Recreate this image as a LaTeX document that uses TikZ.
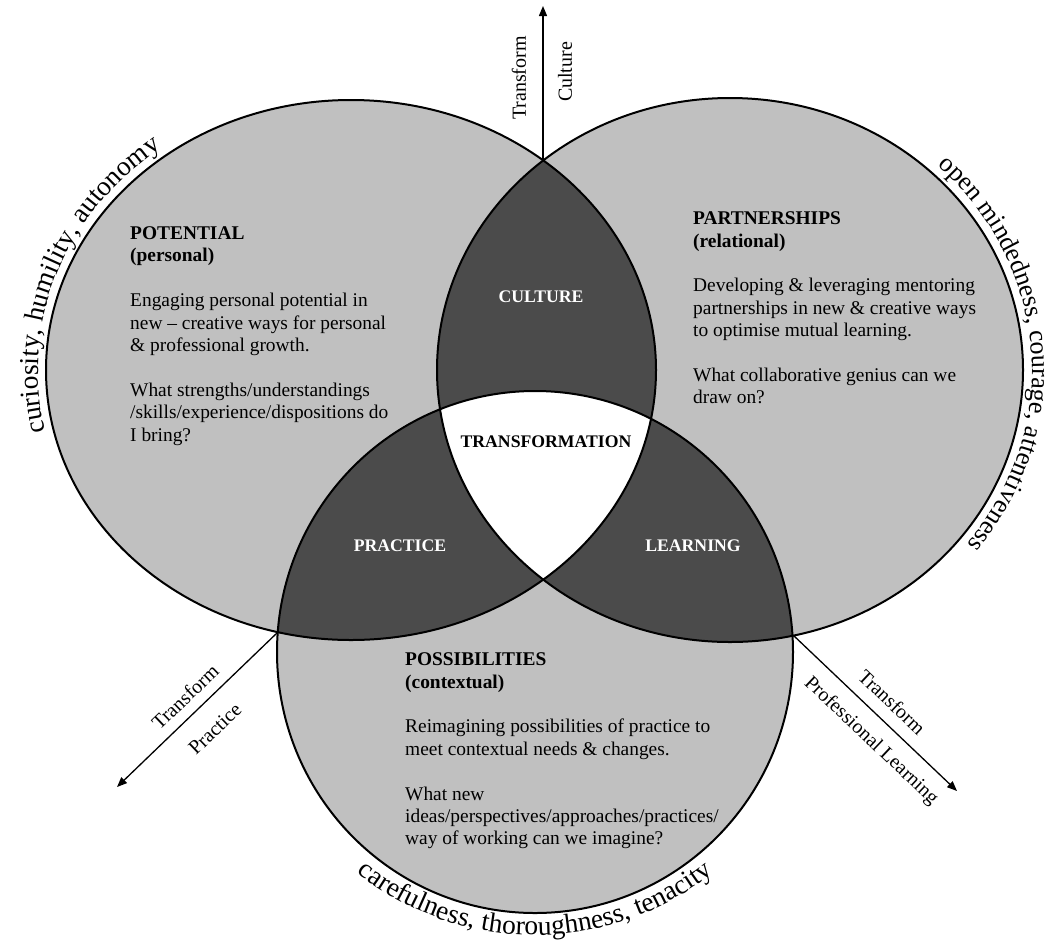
\documentclass[tikz,border=0pt]{standalone}
\usepackage{fontspec}
\setmainfont{Liberation Serif}
\usetikzlibrary{arrows.meta,decorations.text}

\definecolor{ringfill}{RGB}{192,192,192}
\definecolor{overlapfill}{RGB}{75,75,75}

\newcommand{\vennBody}{\fontsize{19.4pt}{22.4pt}\selectfont}
\newcommand{\vennLabel}{\fontsize{17.7pt}{20pt}\selectfont\bfseries}
\newcommand{\vennArc}{\fontsize{27.5pt}{32pt}\selectfont}
\newcommand{\vennArcR}{\fontsize{26pt}{30pt}\selectfont}
\newcommand{\vennTag}{\fontsize{20pt}{23pt}\selectfont}

\begin{document}
\begin{tikzpicture}[x=1pt,y=-1pt,
  shapeL/.style={insert path={(351,370) ellipse [x radius=305pt, y radius=270pt]}},
  shapeR/.style={insert path={(730,370) ellipse [x radius=293pt, y radius=272pt]}},
  shapeB/.style={insert path={(535,652) ellipse [x radius=258pt, y radius=261pt]}},
  ring/.style={draw=black, line width=2pt},
  blurb/.style={anchor=north west, align=left, inner sep=0pt, font=\vennBody},
  zone/.style={font=\vennLabel, inner sep=0pt},
  flow/.style={draw=black, line width=1.3pt, -{Triangle[length=10pt,width=8pt]}},
  tag/.style={font=\vennTag, inner sep=0pt},
  arctext/.style={decorate, decoration={text along path, text align=center, text={|\vennArc|#1}}},
  arctextR/.style={decorate, decoration={text along path, text align=center, text={|\vennArcR|#1}}},
]
% canvas
\useasboundingbox (0,0) rectangle (1055,946);
\fill[white] (0,0) rectangle (1055,946);

% the three ovals
\fill[ringfill, shapeL];
\fill[ringfill, shapeR];
\fill[ringfill, shapeB];

% pairwise overlaps
\begin{scope}
  \clip[shapeL];
  \fill[overlapfill, shapeR];
\end{scope}
\begin{scope}
  \clip[shapeL];
  \fill[overlapfill, shapeB];
\end{scope}
\begin{scope}
  \clip[shapeR];
  \fill[overlapfill, shapeB];
\end{scope}

% common core
\begin{scope}
  \clip[shapeL];
  \clip[shapeR];
  \fill[white, shapeB];
\end{scope}

% outlines
\draw[ring, shapeL];
\draw[ring, shapeR];
\draw[ring, shapeB];

% descriptions
\node[blurb] (potential) at (130,226.5) {\textbf{POTENTIAL}\\\textbf{(personal)}\\[22.4pt]Engaging personal potential in\\new – creative ways for personal\\\& professional growth.\\[22.4pt]What strengths/understandings\\/skills/experience/dispositions do\\I bring?};

\node[blurb] (partnerships) at (693,211.7) {\textbf{PARTNERSHIPS}\\\textbf{(relational)}\\[22.4pt]Developing \& leveraging mentoring\\partnerships in new \& creative ways\\to optimise mutual learning.\\[22.4pt]What collaborative genius can we\\draw on?};

\node[blurb] (possibilities) at (405,652.7) {\textbf{POSSIBILITIES}\\\textbf{(contextual)}\\[22.4pt]Reimagining possibilities of practice to\\meet contextual needs \& changes.\\[22.4pt]What new\\ideas/perspectives/approaches/practices/\\way of working can we imagine?};

% overlap labels
\node[zone, text=white] (culture) at (541,297) {CULTURE};
\node[zone] (transformation) at (546,442) {TRANSFORMATION};
\node[zone, text=white] (practice) at (400,546) {PRACTICE};
\node[zone, text=white] (learning) at (693,546) {LEARNING};

% outward arrows from the crossing points
\coordinate (topX) at (543,160.4);
\coordinate (leftX) at (278,632);
\coordinate (rightX) at (793,635);
\coordinate (upEnd) at (543,6);
\coordinate (leftEnd) at (117,787);
\coordinate (rightEnd) at (957,791);
\draw[flow] (topX) -- (upEnd);
\draw[flow] (leftX) -- (leftEnd);
\draw[flow] (rightX) -- (rightEnd);

\node[tag, rotate=90] (tfCulture) at (519,78) {Transform};
\node[tag, rotate=90] (culTag) at (565,72) {Culture};
\node[tag, rotate=43.7] (tfPractice) at (185,697) {Transform};
\node[tag, rotate=43.7] (pracTag) at (215,729) {Practice};
\node[tag, rotate=-43.4] (tfLearning) at (892,702) {Transform};
\node[tag, rotate=-43.4] (learnTag) at (871,741) {Professional Learning};

% dispositions around the rims
\path[arctext={curiosity, humility, autonomy}] (351,370) ++(222:313pt and 279pt) arc[start angle=222, end angle=100, x radius=313pt, y radius=279pt];
\path[arctextR={open mindedness, courage, attentiveness}] (730,370) ++(64:302pt and 281pt) arc[start angle=64, end angle=-56, x radius=302pt, y radius=281pt];
\path[arctext={carefulness, thoroughness, tenacity}] (535,652) ++(212:285pt and 283pt) arc[start angle=212, end angle=328, x radius=285pt, y radius=283pt];
\end{tikzpicture}
\end{document}
